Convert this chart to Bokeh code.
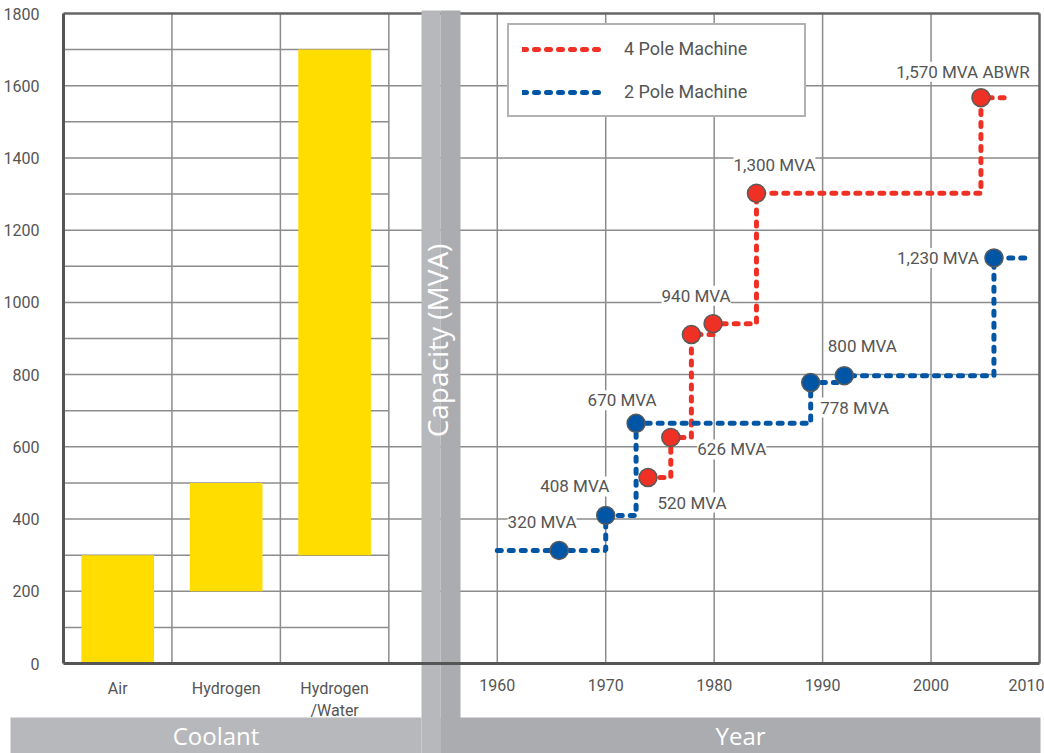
import math
from bokeh.plotting import figure
from bokeh.models import (Range1d, FixedTicker, ColumnDataSource, LabelSet, Label,
                          Legend, LegendItem, LinearAxis)
from bokeh.core.properties import value
from bokeh.embed import file_html
from bokeh.resources import INLINE

# ---------------- data ----------------
coolants = ["Air", "Hydrogen", "Hydrogen\n/Water"]
coolant_low = [0, 200, 300]
coolant_high = [300, 500, 1700]

four_pole_years = [1973.9, 1976.0, 1977.9, 1979.9, 1983.9, 2004.6]
four_pole_mva = [515, 626, 911, 941, 1302, 1567]
four_pole_labels = ["520 MVA", "626 MVA", "", "940 MVA", "1,300 MVA", "1,570 MVA ABWR"]
four_pole_end = 2007.2

two_pole_years = [1965.7, 1970.0, 1972.8, 1988.9, 1992.0, 2005.8]
two_pole_mva = [313, 410, 665, 778, 797, 1123]
two_pole_labels = ["320 MVA", "408 MVA", "670 MVA", "778 MVA", "800 MVA", "1,230 MVA"]
two_pole_start = 1960.0
two_pole_end = 2009.0

year_ticks = [1960, 1970, 1980, 1990, 2000, 2010]
mva_ticks = [0, 200, 400, 600, 800, 1000, 1200, 1400, 1600, 1800]
mva_minor = [100, 300, 500, 700, 900, 1100, 1300, 1500, 1700]

# label offsets (screen px; layout only)
four_dx = [44, 61, 0, -17, 18, -18]
four_dy = [-25, -12, 0, 28, 28, 26]
two_dx = [-17, -31, -14, 44, 18, -56]
two_dy = [28, 29, 23, -25, 30, 0]

# ---------------- layout / style ----------------
W, H = 1044, 753
FL, FR, FT, FB = 63, 1039, 13, 663          # chart box in canvas px
YEAR_MIN, YEAR_MAX = 1920, 2010            # span of the year scale inside the box
MVA_MIN, MVA_MAX = mva_ticks[0], mva_ticks[-1]
SLOT = 10.0                                 # years per coolant slot

K_X = (FR - FL) / (YEAR_MAX - YEAR_MIN)
K_Y = (FB - FT) / (MVA_MAX - MVA_MIN)


def xd(px):
    return YEAR_MIN + (px - FL) / K_X


def yd(py):
    return MVA_MIN + (FB - py) / K_Y


RED = "#EE3124"
BLUE = "#0055A5"
YELLOW = "#FFDD00"
GRID = "#8c8c8c"
BORDER = "#666666"
AXIS = "#555555"
TXT = "#555555"
LIGHT = "#B7B8BC"
DARK = "#ABACB0"
SMALL = "Roboto"
BIG = "Open Sans"

p = figure(width=W, height=H, x_range=Range1d(xd(0), xd(W)), y_range=Range1d(yd(H), yd(0)),
           x_axis_type=None, y_axis_type=None,
           output_backend="svg", toolbar_location=None,
           min_border=0, min_border_left=0, min_border_right=0,
           min_border_top=0, min_border_bottom=0,
           background_fill_color="white", border_fill_color="white",
           outline_line_color=None)
p.extra_x_ranges = {"coolant": Range1d((xd(0) - YEAR_MIN) / SLOT, (xd(W) - YEAR_MIN) / SLOT)}

n = len(coolants)
n_slots = (YEAR_MAX - YEAR_MIN) / SLOT

# grid lines
p.segment(x0=YEAR_MIN, x1=YEAR_MAX, y0=mva_ticks[1:-1], y1=mva_ticks[1:-1],
          line_color=GRID, line_width=1.5)
p.segment(x0=0, x1=n, y0=mva_minor, y1=mva_minor, x_range_name="coolant",
          line_color=GRID, line_width=1.5)
p.segment(x0=list(range(1, n + 1)), x1=list(range(1, n + 1)), y0=MVA_MIN, y1=MVA_MAX,
          x_range_name="coolant", line_color=GRID, line_width=1.5)
p.segment(x0=year_ticks[:-1], x1=year_ticks[:-1], y0=MVA_MIN, y1=MVA_MAX,
          line_color=GRID, line_width=1.5)
# box border (top and right)
p.segment(x0=[YEAR_MIN, YEAR_MAX], x1=[YEAR_MAX, YEAR_MAX],
          y0=[MVA_MAX, MVA_MIN], y1=[MVA_MAX, MVA_MAX],
          line_color=BORDER, line_width=2.5)

# coolant bars
centers = [i + 0.5 for i in range(n)]
p.vbar(x=centers, width=0.67, bottom=coolant_low, top=coolant_high,
       x_range_name="coolant", fill_color=YELLOW, line_color=None)

# grey bands (decoration)
B_L, B_M, B_R = xd(421), xd(440), xd(460)
p.quad(left=[B_L, B_M, xd(10), B_M],
       right=[B_M, B_R, B_L, xd(1040)],
       top=[yd(10), yd(10), yd(717), yd(717)],
       bottom=[yd(H), yd(H), yd(H), yd(H)],
       fill_color=[LIGHT, DARK, LIGHT, DARK], line_color=None)

p.add_layout(Label(x=xd(436), y=yd(340), text="Capacity (MVA)", angle=math.pi / 2,
                   text_align="center", text_baseline="middle", text_color="white",
                   text_font=BIG, text_font_size="28px"))
p.add_layout(Label(x=(xd(10) + B_L) / 2, y=yd(735), text="Coolant",
                   text_align="center", text_baseline="middle", text_color="white",
                   text_font=BIG, text_font_size="24px"))
p.add_layout(Label(x=(B_M + xd(1040)) / 2, y=yd(735), text="Year",
                   text_align="center", text_baseline="middle", text_color="white",
                   text_font=BIG, text_font_size="24px"))

# axes (fixed at the chart box edges)
xaxis = LinearAxis(ticker=FixedTicker(ticks=year_ticks), fixed_location=MVA_MIN,
                   bounds=(YEAR_MIN, YEAR_MAX))
caxis = LinearAxis(ticker=FixedTicker(ticks=centers), fixed_location=MVA_MIN,
                   x_range_name="coolant", bounds=(0, n_slots),
                   major_label_overrides={c: t for c, t in zip(centers, coolants)})
yaxis = LinearAxis(ticker=FixedTicker(ticks=mva_ticks), fixed_location=YEAR_MIN,
                   bounds=(MVA_MIN, MVA_MAX))
for ax in (xaxis, caxis, yaxis):
    ax.axis_line_color = AXIS
    ax.axis_line_width = 3
    ax.major_tick_line_color = None
    ax.minor_tick_line_color = None
    ax.major_label_text_font = SMALL
    ax.major_label_text_font_size = "16px"
    ax.major_label_text_color = TXT
xaxis.major_label_standoff = 9
caxis.major_label_standoff = 9
caxis.axis_line_color = None
yaxis.major_label_standoff = 18
p.add_layout(xaxis, "below")
p.add_layout(caxis, "below")
p.add_layout(yaxis, "left")

# step lines
line_kw = dict(line_width=5, line_dash="4 8", line_cap="round", mode="after")
r4 = p.step(four_pole_years + [four_pole_end], four_pole_mva + [four_pole_mva[-1]],
            line_color=RED, **line_kw)
r2 = p.step([two_pole_start] + two_pole_years + [two_pole_end],
            [two_pole_mva[0]] + two_pole_mva + [two_pole_mva[-1]],
            line_color=BLUE, **line_kw)

p.scatter(four_pole_years, four_pole_mva, size=18, fill_color=RED,
          line_color="#5a5a5a", line_width=1.5)
p.scatter(two_pole_years, two_pole_mva, size=18, fill_color=BLUE,
          line_color="#5a5a5a", line_width=1.5)


def label_source(xs, ys, texts, dxs, dys):
    keep = [i for i, t in enumerate(texts) if t]
    return ColumnDataSource(dict(x=[xs[i] for i in keep], y=[ys[i] for i in keep],
                                 t=[texts[i] for i in keep], dx=[dxs[i] for i in keep],
                                 dy=[dys[i] for i in keep]))


for src in (label_source(four_pole_years, four_pole_mva, four_pole_labels, four_dx, four_dy),
            label_source(two_pole_years, two_pole_mva, two_pole_labels, two_dx, two_dy)):
    p.add_layout(LabelSet(x="x", y="y", text="t", x_offset="dx", y_offset="dy", source=src,
                          text_align="center", text_baseline="middle",
                          text_font=value(SMALL), text_font_size="17px",
                          text_color=TXT, background_fill_color="white"))

legend = Legend(items=[LegendItem(label="4 Pole Machine", renderers=[r4]),
                       LegendItem(label="2 Pole Machine", renderers=[r2])],
                location=(507, H - 117), glyph_width=82, glyph_height=20,
                label_width=167, label_height=20, label_standoff=20,
                padding=13, spacing=22, border_line_color="#666666",
                border_line_width=2, background_fill_color="white",
                background_fill_alpha=1, label_text_font=SMALL,
                label_text_font_size="18px", label_text_color=TXT)
p.add_layout(legend)

open("out.html", "w").write(file_html(p, INLINE))
